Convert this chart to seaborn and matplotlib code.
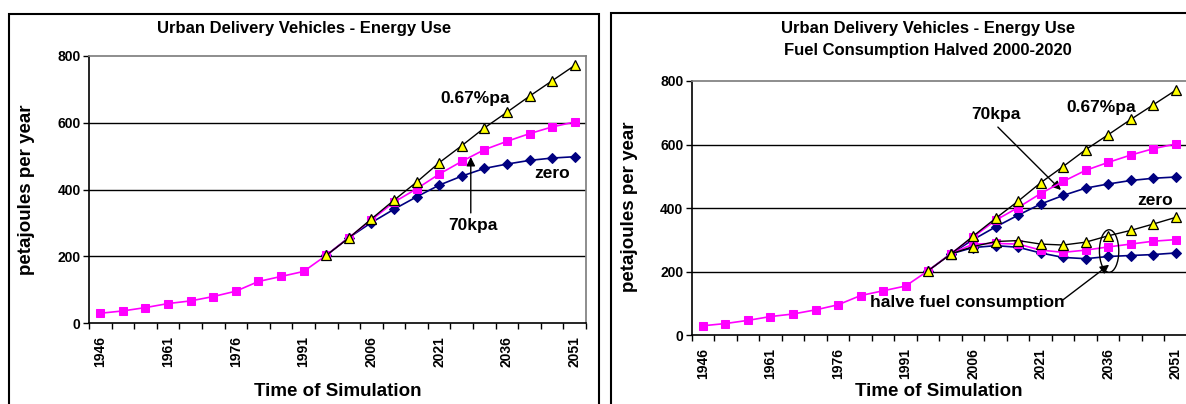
import numpy as np
import pandas as pd
import matplotlib
matplotlib.use("Agg")
import matplotlib.pyplot as plt
from matplotlib.patches import Rectangle, Ellipse
import seaborn as sns

# ---------------- data ----------------
years = [1946, 1951, 1956, 1961, 1966, 1971, 1976, 1981, 1986, 1991, 1996,
         2001, 2006, 2011, 2016, 2021, 2026, 2031, 2036, 2041, 2046, 2051]
tick_years = [1946, 1961, 1976, 1991, 2006, 2021, 2036, 2051]

nan = np.nan
kpa70 = [30, 37, 47, 59, 67, 80, 96, 125, 140, 155, 203,
         256, 309, 362, 402, 446, 484, 519, 544, 567, 587, 602]
pa067 = [nan] * 10 + [203, 255, 312, 368, 422, 480, 531, 584, 631, 679, 725, 771]
zero = [nan] * 10 + [203, 256, 301, 341, 378, 413, 440, 463, 476, 487, 494, 498]

half_pa067 = [nan] * 11 + [256, 279, 295, 298, 287, 284, 293, 313, 330, 350, 371]
half_kpa70 = [nan] * 11 + [256, 287, 289, 287, 268, 261, 268, 278, 287, 296, 301]
half_zero = [nan] * 11 + [256, 276, 282, 277, 259, 245, 241, 248, 251, 254, 259]

title_left = "Urban Delivery Vehicles - Energy Use"
title_right = ["Urban Delivery Vehicles - Energy Use", "Fuel Consumption Halved 2000-2020"]
ylabel = "petajoules per year"
xlabel = "Time of Simulation"

# ---------------- style ----------------
sns.set_theme(style="white")
plt.rcParams["font.family"] = ["Liberation Sans", "DejaVu Sans"]
plt.rcParams["font.weight"] = "bold"
plt.rcParams["text.color"] = "black"
plt.rcParams["axes.labelcolor"] = "black"
plt.rcParams["xtick.color"] = "black"
plt.rcParams["ytick.color"] = "black"
plt.rcParams["xtick.labelcolor"] = "black"
plt.rcParams["ytick.labelcolor"] = "black"

W, H = 1186, 404
fig = plt.figure(figsize=(W / 100, H / 100), dpi=100)
fig.patch.set_facecolor("white")

def fx(px):
    return px / W

def fy(py):
    return 1 - py / H

idx = np.arange(len(years))

def style_axes(ax):
    ax.set_xlim(-0.5, len(years) - 0.5)
    ax.set_ylim(0, 800)
    ax.set_yticks([0, 200, 400, 600, 800])
    ax.set_yticklabels(["0", "200", "400", "600", "800"], fontsize=10, fontweight="bold",
                       color="black")
    tpos = [years.index(t) for t in tick_years]
    ax.set_xticks(tpos)
    ax.set_xticklabels([str(t) for t in tick_years], rotation=90, fontsize=10,
                       fontweight="bold", va="top", color="black")
    ax.set_xticks(np.arange(-0.5, len(years)), minor=True)
    ax.tick_params(axis="x", which="major", length=0, pad=9)
    ax.tick_params(axis="x", which="minor", length=4, width=1, color="black",
                   direction="out", bottom=True)
    ax.tick_params(axis="y", length=4, width=1, color="black", direction="out",
                   left=True, pad=2)
    for y in [200, 400, 600]:
        ax.axhline(y, color="black", lw=1, zorder=0.5)
    ax.spines["left"].set_color("black")
    ax.spines["bottom"].set_color("black")
    ax.spines["left"].set_linewidth(1.2)
    ax.spines["bottom"].set_linewidth(1.2)
    ax.spines["top"].set_color("#808080")
    ax.spines["right"].set_color("#808080")
    ax.set_xlabel("")
    ax.set_ylabel("")
    ax.set_facecolor("white")

def plot_series(ax, vals, kind):
    if kind == "tri":
        sns.lineplot(x=idx, y=vals, ax=ax, color="black", lw=1, marker="^",
                     markersize=7.5, markerfacecolor="#FFFF00", markeredgecolor="black",
                     markeredgewidth=0.9, zorder=5)
    elif kind == "sq":
        sns.lineplot(x=idx, y=vals, ax=ax, color="#FF00FF", lw=1.2, marker="s",
                     markersize=6.3, markerfacecolor="#FF00FF", markeredgecolor="#FF00FF",
                     zorder=4)
    else:
        sns.lineplot(x=idx, y=vals, ax=ax, color="#000080", lw=1.2, marker="D",
                     markersize=5, markerfacecolor="#000080", markeredgecolor="#000080",
                     zorder=3)

ARROW = dict(arrowstyle="-|>", color="black", lw=1, mutation_scale=13, shrinkA=0, shrinkB=0)

# frames
fig.patches.append(Rectangle((fx(8.5), fy(420)), fx(599 - 8.5), (420 - 14.3) / H,
                             transform=fig.transFigure, fill=False, ec="black", lw=1.5))
fig.patches.append(Rectangle((fx(611), fy(420)), fx(700), (420 - 13.3) / H,
                             transform=fig.transFigure, fill=False, ec="black", lw=1.5))

# ---------------- left chart ----------------
axL = fig.add_axes([fx(89), fy(323.3), fx(586 - 89), (323.3 - 55.7) / H])
plot_series(axL, zero, "dia")
plot_series(axL, kpa70, "sq")
plot_series(axL, pa067, "tri")
style_axes(axL)
axL.text(16.6, 672, "0.67%pa", ha="center", va="center", fontsize=12.5, fontweight="bold",
         color="black")
axL.text(20.0, 448, "zero", ha="center", va="center", fontsize=12.5, fontweight="bold",
         color="black")
axL.text(16.5, 291, "70kpa", ha="center", va="center", fontsize=12.5, fontweight="bold",
         color="black")
axL.annotate("", xy=(16.4, 497), xytext=(16.4, 330), arrowprops=ARROW)

fig.text(fx(304), fy(29), title_left, ha="center", va="center", fontsize=12,
         fontweight="bold", color="black")
fig.text(fx(338), fy(391), xlabel, ha="center", va="center", fontsize=13.5,
         fontweight="bold", color="black")
fig.text(fx(27), fy(190), ylabel, ha="center", va="center", rotation=90, fontsize=13.5,
         fontweight="bold", color="black")

# ---------------- right chart ----------------
axR = fig.add_axes([fx(691.7), fy(335.3), fx(1187 - 691.7), (335.3 - 81) / H])
plot_series(axR, half_zero, "dia")
plot_series(axR, half_kpa70, "sq")
plot_series(axR, half_pa067, "tri")
plot_series(axR, zero, "dia")
plot_series(axR, kpa70, "sq")
plot_series(axR, pa067, "tri")
style_axes(axR)
axR.text(17.7, 718, "0.67%pa", ha="center", va="center", fontsize=12.5, fontweight="bold",
         color="black")
axR.text(20.1, 425, "zero", ha="center", va="center", fontsize=12.5, fontweight="bold",
         color="black")
axR.text(13.0, 696, "70kpa", ha="center", va="center", fontsize=12.5, fontweight="bold",
         color="black")
axR.annotate("", xy=(15.9, 457), xytext=(13.1, 655), arrowprops=ARROW)
axR.text(11.73, 102, "halve fuel consumption", ha="center", va="center", fontsize=12.5,
         fontweight="bold", color="black")
axR.annotate("", xy=(18.04, 222), xytext=(16.0, 112), arrowprops=ARROW)
axR.add_patch(Ellipse((18.04, 265), 0.86, 134, fill=False, ec="black", lw=1, zorder=6))

fig.text(fx(928), fy(28), title_right[0], ha="center", va="center", fontsize=12,
         fontweight="bold", color="black")
fig.text(fx(928), fy(50), title_right[1], ha="center", va="center", fontsize=12,
         fontweight="bold", color="black")
fig.text(fx(939), fy(392), xlabel, ha="center", va="center", fontsize=13.5,
         fontweight="bold", color="black")
fig.text(fx(629), fy(207), ylabel, ha="center", va="center", rotation=90, fontsize=13.5,
         fontweight="bold", color="black")

fig.savefig("out.png", dpi=100, facecolor="white")
